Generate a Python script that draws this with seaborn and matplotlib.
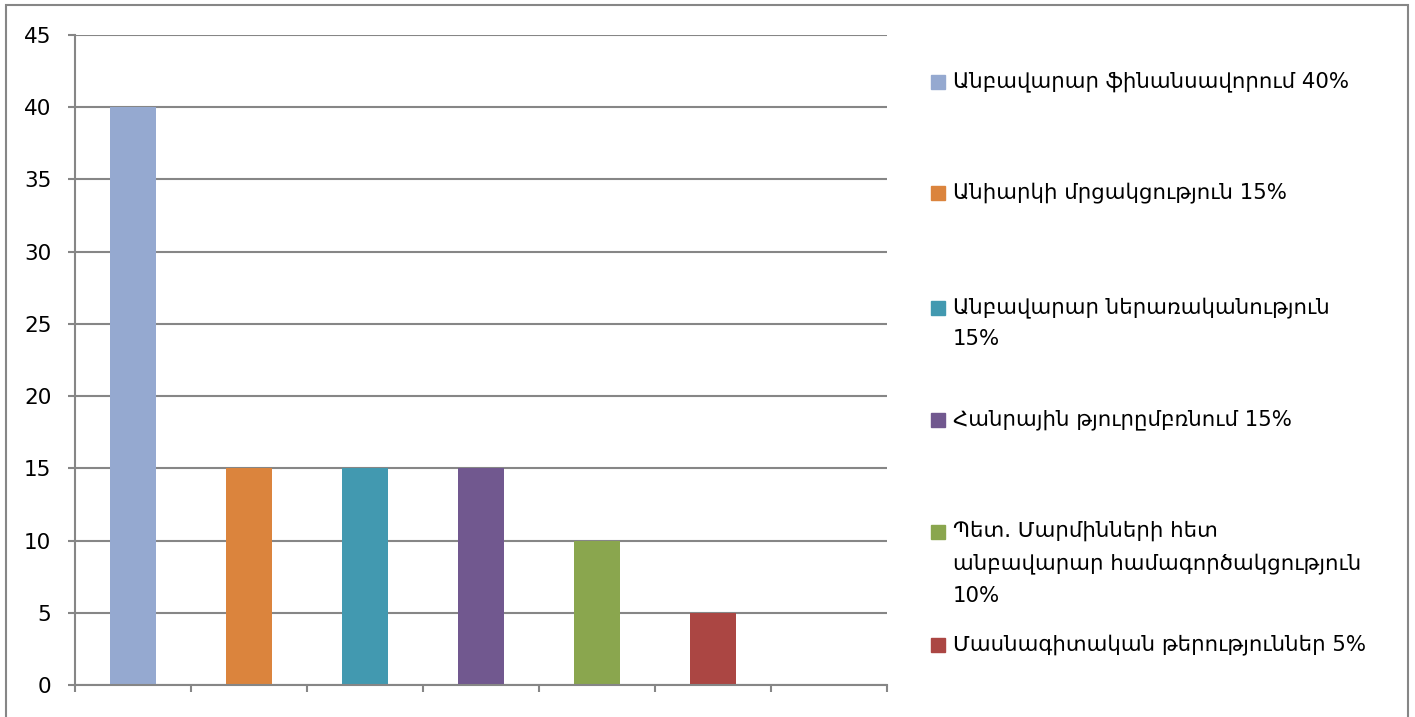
import numpy as np
import pandas as pd
import seaborn as sns
import matplotlib.pyplot as plt
from matplotlib.patches import Rectangle

# տվյալներ
categories = ["Անբավարար ֆինանսավորում 40%",
              "Անիարկի մրցակցություն 15%",
              "Անբավարար ներառականություն\n15%",
              "Հանրային թյուրըմբռնում 15%",
              "Պետ. Մարմինների հետ\nանբավարար համագործակցություն\n10%",
              "Մասնագիտական թերություններ 5%"]
values = [40, 15, 15, 15, 10, 5]
colors = ["#95A9D0", "#DB843D", "#4299B0", "#71588F", "#8AA64E", "#AB4643"]
y_ticks = [0, 5, 10, 15, 20, 25, 30, 35, 40, 45]

sns.set_style("white")
plt.rcParams['font.family'] = ['DejaVu Sans']
plt.rcParams['text.color'] = 'black'
plt.rcParams['ytick.color'] = 'black'

df = pd.DataFrame({"cat": categories, "val": values})

fig = plt.figure(figsize=(14.15, 7.17), dpi=100)
ax = fig.add_axes([75 / 1415, 1 - 685 / 717, 812 / 1415, 650 / 717])

sns.barplot(data=df, x="cat", y="val", hue="cat", palette=colors,
            width=0.4, saturation=1, legend=False, linewidth=0, ax=ax)

ax.set_xlim(-0.5, 6.5)
ax.set_ylim(0, 45)
ax.set_yticks(y_ticks)
ax.set_xticks(np.arange(-0.5, 7, 1))
ax.set_xticklabels([])
ax.set_xlabel("")
ax.set_ylabel("")
ax.grid(axis="y", color="#868686", linewidth=1.5)
ax.set_axisbelow(True)
for s in ["top", "right"]:
    ax.spines[s].set_visible(False)
for s in ["left", "bottom"]:
    ax.spines[s].set_color("#868686")
    ax.spines[s].set_linewidth(1.5)
ax.tick_params(axis="both", direction="out", length=5, width=1.5, color="#868686",
               labelsize=15.5, labelcolor="black", pad=12, left=True, bottom=True)

# լեգենդ
leg_y = [82, 193, 308, 420, 532, 645]
for lab, col, yp in zip(categories, colors, leg_y):
    fig.patches.append(Rectangle((931 / 1415, 1 - (yp + 7) / 717), 14 / 1415, 14 / 717,
                                 transform=fig.transFigure, color=col))
    fig.text(953 / 1415, 1 - (yp - 11) / 717, lab, fontsize=15.3, va="top",
             ha="left", linespacing=1.72)

# արտաքին շրջանակ
fig.patches.append(Rectangle((6 / 1415, -0.01), 1402 / 1415, 1.01 - 5 / 717,
                             transform=fig.transFigure, fill=False,
                             edgecolor="#868686", linewidth=1.5))

fig.savefig("out.png", dpi=100)
